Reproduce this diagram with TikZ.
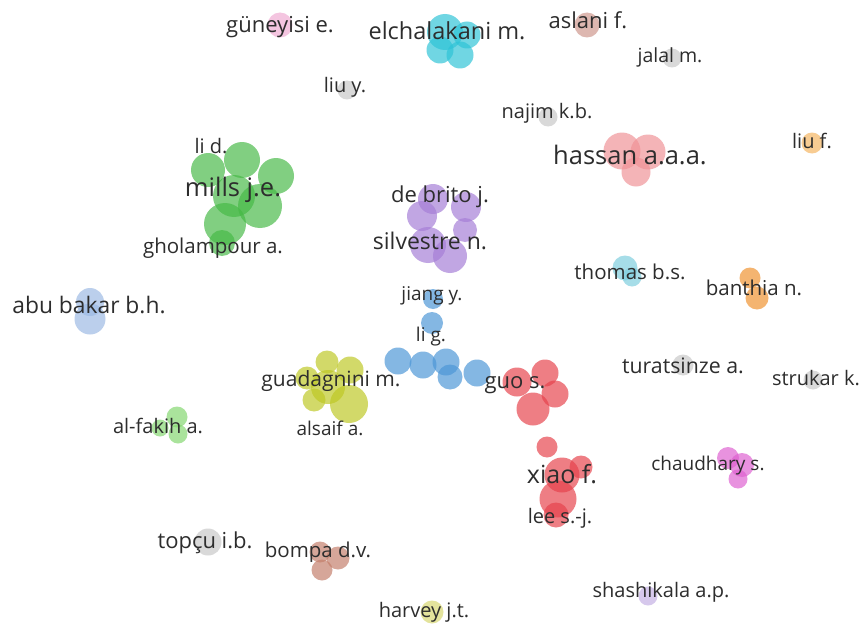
\documentclass[tikz,border=0pt]{standalone}
\usepackage{fontspec}
\setmainfont{Open Sans}
\newcommand\LabFS[1]{\fontsize{#1}{#1}\selectfont}
\definecolor{txt}{RGB}{45,45,45}
\definecolor{grn}{RGB}{70,185,70}
\definecolor{pur}{RGB}{165,125,215}
\definecolor{blu}{RGB}{75,150,215}
\definecolor{red}{RGB}{230,65,75}
\definecolor{yel}{RGB}{190,200,35}
\definecolor{cya}{RGB}{45,195,215}
\definecolor{pnk}{RGB}{240,145,150}
\definecolor{gpk}{RGB}{240,170,210}
\definecolor{asl}{RGB}{205,150,140}
\definecolor{gry}{RGB}{200,200,200}
\definecolor{org}{RGB}{240,145,45}
\definecolor{lor}{RGB}{245,180,95}
\definecolor{abb}{RGB}{155,185,228}
\definecolor{lgr}{RGB}{130,215,110}
\definecolor{bmp}{RGB}{195,125,105}
\definecolor{hrv}{RGB}{215,215,110}
\definecolor{shs}{RGB}{195,175,228}
\definecolor{chd}{RGB}{222,95,208}
\definecolor{thm}{RGB}{125,205,222}
\pgfdeclarelayer{bg}
\pgfsetlayers{bg,main}
\tikzset{
  bub/.style={circle, inner sep=0pt, draw=none, fill opacity=0.68, minimum size=#1},
  lab/.style={inner sep=0pt, text=txt},
  lnk/.style={line width=1.6pt, draw opacity=0.45, line cap=round},
}
\begin{document}
\begin{tikzpicture}[x=1pt,y=-1pt]
\fill[white] (0,0) rectangle (860,626);
\useasboundingbox (0,0) rectangle (860,626);
% green cluster
\node[bub=34pt, fill=grn] (g1) at (208,170) {};
\node[bub=36pt, fill=grn] (g2) at (242,160) {};
\node[bub=36pt, fill=grn] (g3) at (276,176) {};
\node[bub=42pt, fill=grn] (g4) at (234,196) {};
\node[bub=44pt, fill=grn] (g5) at (260,206) {};
\node[bub=42pt, fill=grn] (g6) at (225,224) {};
\node[bub=26pt, fill=grn] (g7) at (222,243) {};
% purple cluster
\node[bub=30pt, fill=pur] (p1) at (433,199) {};
\node[bub=30pt, fill=pur] (p2) at (422,216) {};
\node[bub=30pt, fill=pur] (p3) at (466,207) {};
\node[bub=24pt, fill=pur] (p4) at (465,230) {};
\node[bub=36pt, fill=pur] (p5) at (428,245) {};
\node[bub=34pt, fill=pur] (p6) at (450,256) {};
% blue cluster
\node[bub=20pt, fill=blu] (b1) at (433,299) {};
\node[bub=22pt, fill=blu] (b2) at (432,323) {};
\node[bub=27pt, fill=blu] (b3) at (398,361) {};
\node[bub=27pt, fill=blu] (b4) at (423,365) {};
\node[bub=27pt, fill=blu] (b5) at (446,362) {};
\node[bub=25pt, fill=blu] (b6) at (450,377) {};
\node[bub=27pt, fill=blu] (b7) at (477,373) {};
% red cluster
\node[bub=29pt, fill=red] (r1) at (517,382) {};
\node[bub=27pt, fill=red] (r2) at (545,373) {};
\node[bub=27pt, fill=red] (r3) at (555,394) {};
\node[bub=33pt, fill=red] (r4) at (533,409) {};
\node[bub=21pt, fill=red] (r5) at (547,447) {};
\node[bub=35pt, fill=red] (r6) at (562,475) {};
\node[bub=23pt, fill=red] (r7) at (581,467) {};
\node[bub=37pt, fill=red] (r8) at (558,499) {};
\node[bub=25pt, fill=red] (r9) at (556,515) {};
% yellow cluster
\node[bub=23pt, fill=yel] (y1) at (327,362) {};
\node[bub=27pt, fill=yel] (y2) at (350,370) {};
\node[bub=23pt, fill=yel] (y3) at (307,378) {};
\node[bub=34pt, fill=yel] (y4) at (328,387) {};
\node[bub=38pt, fill=yel] (y5) at (349,404) {};
\node[bub=23pt, fill=yel] (y6) at (314,400) {};
% cyan cluster
\node[bub=36pt, fill=cya] (c1) at (445,32) {};
\node[bub=27pt, fill=cya] (c2) at (467,35) {};
\node[bub=27pt, fill=cya] (c3) at (440,50) {};
\node[bub=27pt, fill=cya] (c4) at (460,55) {};
% hassan
\node[bub=37pt, fill=pnk] (h1) at (622,151) {};
\node[bub=35pt, fill=pnk] (h2) at (648,152) {};
\node[bub=29pt, fill=pnk] (h3) at (636,172) {};
% singles and small groups
\node[bub=25pt, fill=gpk] (n1) at (280,25) {};
\node[bub=25pt, fill=asl] (n2) at (587,25) {};
\node[bub=19pt, fill=gry] (n3) at (347,90) {};
\node[bub=19pt, fill=gry] (n4) at (548,117) {};
\node[bub=19pt, fill=gry] (n5) at (672,58) {};
\node[bub=21pt, fill=lor] (n6) at (812,143) {};
\node[bub=28pt, fill=abb] (a1) at (90,302) {};
\node[bub=31pt, fill=abb] (a2) at (90,319) {};
\node[bub=21pt, fill=lgr] (f1) at (177,417) {};
\node[bub=17pt, fill=lgr] (f2) at (160,428) {};
\node[bub=19pt, fill=lgr] (f3) at (178,434) {};
\node[bub=27pt, fill=gry] (t1) at (208,542) {};
\node[bub=21pt, fill=bmp] (m1) at (320,552) {};
\node[bub=23pt, fill=bmp] (m2) at (338,558) {};
\node[bub=21pt, fill=bmp] (m3) at (322,570) {};
\node[bub=23pt, fill=hrv] (hv) at (432,612) {};
\node[bub=19pt, fill=shs] (sh) at (648,596) {};
\node[bub=22pt, fill=chd] (d1) at (728,458) {};
\node[bub=24pt, fill=chd] (d2) at (742,465) {};
\node[bub=19pt, fill=chd] (d3) at (738,479) {};
\node[bub=25pt, fill=thm] (th1) at (625,268) {};
\node[bub=19pt, fill=thm] (th2) at (632,277) {};
\node[bub=21pt, fill=org] (o1) at (750,278) {};
\node[bub=23pt, fill=org] (o2) at (757,298) {};
\node[bub=21pt, fill=gry] (tu) at (683,365) {};
\node[bub=19pt, fill=gry] (st) at (813,380) {};
% links
\begin{pgfonlayer}{bg}
\draw[lnk, draw=grn!45] (g2) -- (g4) (g4) -- (g6) (g6) -- (g7) (g1) -- (g5) (g3) -- (g4);
\draw[lnk, draw=pur!45] (p1) -- (p6) (p2) -- (p3) (p3) -- (p5) (p4) -- (p5);
\draw[lnk, draw=blu!35] (b1) to[bend left=25] (p2);
\draw[lnk, draw=blu!35] (b1) to[bend right=10] (p6);
\draw[lnk, draw=blu!35] (b1) to[bend right=20] (p3);
\draw[lnk, draw=blu!40] (b1) -- (b2) (b2) -- (b3) (b2) -- (b5) (b3) -- (b7);
\draw[lnk, draw=blu!35] (b3) -- (y2);
\draw[lnk, draw=blu!35] (b3) to[bend right=10] (y1);
\draw[lnk, draw=red!35] (b7) -- (r1);
\draw[lnk, draw=red!35] (b6) to[bend right=10] (r4);
\draw[lnk, draw=red!35] (r4) -- (r5) (r5) -- (r6) (r1) -- (r3);
\draw[lnk, draw=yel!45] (y1) -- (y5) (y3) -- (y2);
\end{pgfonlayer}
% labels
\node[lab, font=\LabFS{22}] (Lgun) at (280,27) {güneyisi e.};
\node[lab, font=\LabFS{23.5}] (Lelc) at (447,31) {elchalakani m.};
\node[lab, font=\LabFS{22}] (Lasl) at (588,20) {aslani f.};
\node[lab, font=\LabFS{19.5}] (Ljal) at (670,57) {jalal m.};
\node[lab, font=\LabFS{20}] (Lliy) at (345,87) {liu y.};
\node[lab, font=\LabFS{20}] (Lnaj) at (547,113) {najim k.b.};
\node[lab, font=\LabFS{25.5}] (Lhas) at (630,155) {hassan a.a.a.};
\node[lab, font=\LabFS{20}] (Llif) at (812,141) {liu f.};
\node[lab, font=\LabFS{20}] (Llid) at (211,146) {li d.};
\node[lab, font=\LabFS{25.5}] (Lmil) at (233,190) {mills j.e.};
\node[lab, font=\LabFS{20.5}] (Lgho) at (213,248) {gholampour a.};
\node[lab, font=\LabFS{22}] (Ldeb) at (440,197) {de brito j.};
\node[lab, font=\LabFS{23}] (Lsil) at (430,241) {silvestre n.};
\node[lab, font=\LabFS{19}] (Ljia) at (432,296) {jiang y.};
\node[lab, font=\LabFS{19}] (Llig) at (431,337) {li g.};
\node[lab, font=\LabFS{20.5}] (Ltho) at (630,272) {thomas b.s.};
\node[lab, font=\LabFS{20.5}] (Lban) at (754,288) {banthia n.};
\node[lab, font=\LabFS{22.8}] (Labu) at (89,305) {abu bakar b.h.};
\node[lab, font=\LabFS{21.3}] (Ltur) at (683,366) {turatsinze a.};
\node[lab, font=\LabFS{20}] (Lstr) at (816,378) {strukar k.};
\node[lab, font=\LabFS{21}] (Lgua) at (331,381) {guadagnini m.};
\node[lab, font=\LabFS{22}] (Lguo) at (515,385) {guo s.};
\node[lab, font=\LabFS{20}] (Lalf) at (158,426) {al-fakih a.};
\node[lab, font=\LabFS{19}] (Lals) at (330,428) {alsaif a.};
\node[lab, font=\LabFS{19}] (Lcha) at (708,466) {chaudhary s.};
\node[lab, font=\LabFS{25}] (Lxia) at (562,474) {xiao f.};
\node[lab, font=\LabFS{20}] (Llee) at (560,518) {lee s.-j.};
\node[lab, font=\LabFS{22}] (Ltop) at (205,543) {topçu i.b.};
\node[lab, font=\LabFS{20.5}] (Lbom) at (318,552) {bompa d.v.};
\node[lab, font=\LabFS{20}] (Lsha) at (661,592) {shashikala a.p.};
\node[lab, font=\LabFS{20}] (Lhar) at (424,612) {harvey j.t.};
\end{tikzpicture}
\end{document}
